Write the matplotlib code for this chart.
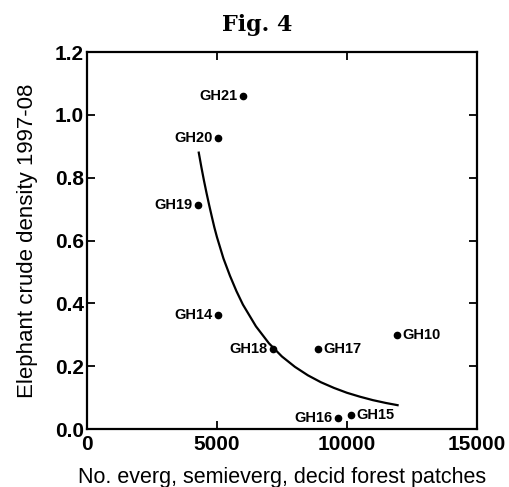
import matplotlib
matplotlib.use("Agg")
import matplotlib.pyplot as plt

# data points
sites = ["GH21", "GH20", "GH19", "GH14", "GH18", "GH17", "GH10", "GH16", "GH15"]
patches = [6000, 5040, 4270, 5040, 7150, 8880, 11920, 9650, 10150]
density = [1.06, 0.927, 0.713, 0.363, 0.255, 0.255, 0.30, 0.035, 0.045]
label_side = ["left", "left", "left", "left", "left", "right", "right", "left", "right"]

# fitted curve
curve_x = [4300, 4400, 4500, 4600, 4700, 4800, 4900, 5000, 5250, 5500, 5750,
           6000, 6500, 7000, 7500, 8000, 8500, 9000, 9500, 10000, 10500,
           11000, 11500, 11950]
curve_y = [0.88, 0.834, 0.791, 0.751, 0.713, 0.677, 0.642, 0.611, 0.543, 0.488,
           0.439, 0.396, 0.327, 0.273, 0.231, 0.198, 0.171, 0.149, 0.131, 0.1155,
           0.103, 0.092, 0.083, 0.076]

plt.rcParams['font.family'] = ['Liberation Sans', 'DejaVu Sans']

fig = plt.figure(figsize=(5.1, 4.87), dpi=100)
ax = fig.add_axes([0.1706, 0.119, 0.7644, 0.774])

ax.plot(curve_x, curve_y, c='black', lw=1.6)
ax.plot(patches, density, 'o', c='black', ms=4.5)

for name, x, y, side in zip(sites, patches, density, label_side):
    if side == "left":
        ax.annotate(name, (x, y), xytext=(-4, 0), textcoords='offset points',
                    ha='right', va='center', fontsize=10.5, fontweight='bold')
    else:
        ax.annotate(name, (x, y), xytext=(4, 0), textcoords='offset points',
                    ha='left', va='center', fontsize=10.5, fontweight='bold')

ax.set_xlim(0, 15000)
ax.set_ylim(0, 1.2)
ax.set_xticks([0, 5000, 10000, 15000])
ax.set_yticks([0.0, 0.2, 0.4, 0.6, 0.8, 1.0, 1.2])
ax.set_yticklabels(["0.0", "0.2", "0.4", "0.6", "0.8", "1.0", "1.2"])
ax.tick_params(direction='in', top=True, right=True, length=6, width=1.3,
               labelsize=15)
ax.tick_params(axis='x', pad=4)
ax.tick_params(axis='y', pad=2)
for lab in ax.get_xticklabels() + ax.get_yticklabels():
    lab.set_fontweight('bold')
for s in ax.spines.values():
    s.set_linewidth(1.6)

ax.set_xlabel("No. everg, semieverg, decid forest patches", fontsize=15.5)
ax.set_ylabel("Elephant crude density 1997-08", fontsize=16)
ax.xaxis.set_label_coords(0.5, -0.102)
ax.yaxis.set_label_coords(-0.125, 0.5)
fig.text(0.504, 0.948, "Fig. 4", ha='center', va='center', fontsize=16,
         fontweight='bold', family='DejaVu Serif')

fig.savefig("out.png", dpi=100)
